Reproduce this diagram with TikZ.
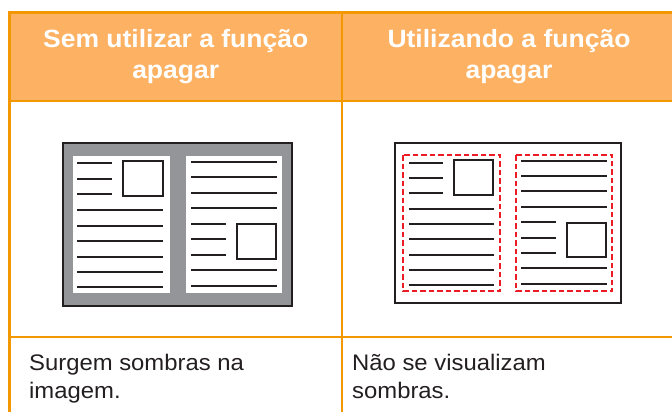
\documentclass[tikz,border=0pt]{standalone}
\usepackage{fontspec}
\setmainfont{Liberation Sans}
\newfontfamily\hdrfont[FakeStretch=1.06]{Liberation Sans}
\newfontfamily\bodyfont[FakeStretch=1.06]{Liberation Sans}
\definecolor{tborder}{RGB}{243,152,0}
\definecolor{hdrfill}{RGB}{253,177,99}
\definecolor{ink}{RGB}{35,31,32}
\definecolor{shade}{RGB}{147,149,152}
\definecolor{redc}{RGB}{237,28,36}
\definecolor{txt}{RGB}{35,31,32}
\begin{document}
\begin{tikzpicture}[x=1pt,y=-1pt,
  outerline/.style={draw=tborder, line width=3pt},
  innerline/.style={draw=tborder, line width=2pt},
  hdr/.style={text=white, font=\hdrfont\bfseries\fontsize{25}{30}\selectfont, anchor=base, inner sep=0pt},
  bodytxt/.style={text=txt, font=\bodyfont\fontsize{22.5}{28}\selectfont, anchor=base west, inner sep=0pt},
  textline/.style={draw=ink, line width=1.9pt},
  picbox/.style={draw=ink, line width=2pt},
  outline/.style={draw=ink, line width=2pt},
  reddash/.style={draw=redc, line width=2.3pt, dash pattern=on 5.5pt off 3pt}]
\useasboundingbox (0,0) rectangle (672,412);
% table
\fill[hdrfill] (9.5,12.5) rectangle (672,100.5);
\draw[innerline] (9.5,100.5) -- (672,100.5);
\draw[innerline] (9.5,337) -- (672,337);
\draw[innerline] (342,12.5) -- (342,412);
\draw[outerline] (9.5,412) -- (9.5,12.5) -- (672,12.5);
% header texts
\node[hdr] (h1a) at (175.7,47.7) {Sem utilizar a função};
\node[hdr] (h1b) at (175.7,78.3) {apagar};
\node[hdr] (h2a) at (509,47.7) {Utilizando a função};
\node[hdr] (h2b) at (509,78.3) {apagar};
% bottom texts
\node[bodytxt] (b1a) at (29,370) {Surgem sombras na};
\node[bodytxt] (b1b) at (29,398) {imagem.};
\node[bodytxt] (b2a) at (352,370) {Não se visualizam};
\node[bodytxt] (b2b) at (352,398) {sombras.};
% left picture
\filldraw[fill=shade, outline] (63.3,143.3) rectangle (292.3,305.7);
\fill[white] (72.7,156) rectangle (170,292.7);
\fill[white] (186,156) rectangle (282.3,292.7);
\foreach \y in {163.3,179,194.3} \draw[textline] (77.3,\y) -- (112.3,\y);
\draw[picbox] (123.3,161) rectangle (162.7,195.7);
\foreach \y in {210,225.7,241,256.7,272.3,287.3} \draw[textline] (77.3,\y) -- (163.3,\y);
\foreach \y in {162,177.3,192.7,208.3,270.3,285.7} \draw[textline] (191.3,\y) -- (277.3,\y);
\foreach \y in {224,239.3,255} \draw[textline] (191.3,\y) -- (226,\y);
\draw[picbox] (237.3,224.3) rectangle (276.3,258.7);
% right picture
\draw[outline] (394.7,143.3) rectangle (620.7,303.3);
\draw[reddash] (403.3,155) rectangle (500,291);
\draw[reddash] (516,155) rectangle (612.3,291);
\foreach \y in {162.7,178,193} \draw[textline] (408.7,\y) -- (443.3,\y);
\draw[picbox] (454,160.3) rectangle (492.7,194.7);
\foreach \y in {208.7,224,239.3,254.7,270,285.3} \draw[textline] (408.7,\y) -- (494,\y);
\foreach \y in {160.7,176,191.3,206.7,268.3,283.7} \draw[textline] (521.3,\y) -- (606.7,\y);
\foreach \y in {222.3,237.7,253} \draw[textline] (521.3,\y) -- (556,\y);
\draw[picbox] (566.7,222.7) rectangle (605.7,257);
\end{tikzpicture}
\end{document}
